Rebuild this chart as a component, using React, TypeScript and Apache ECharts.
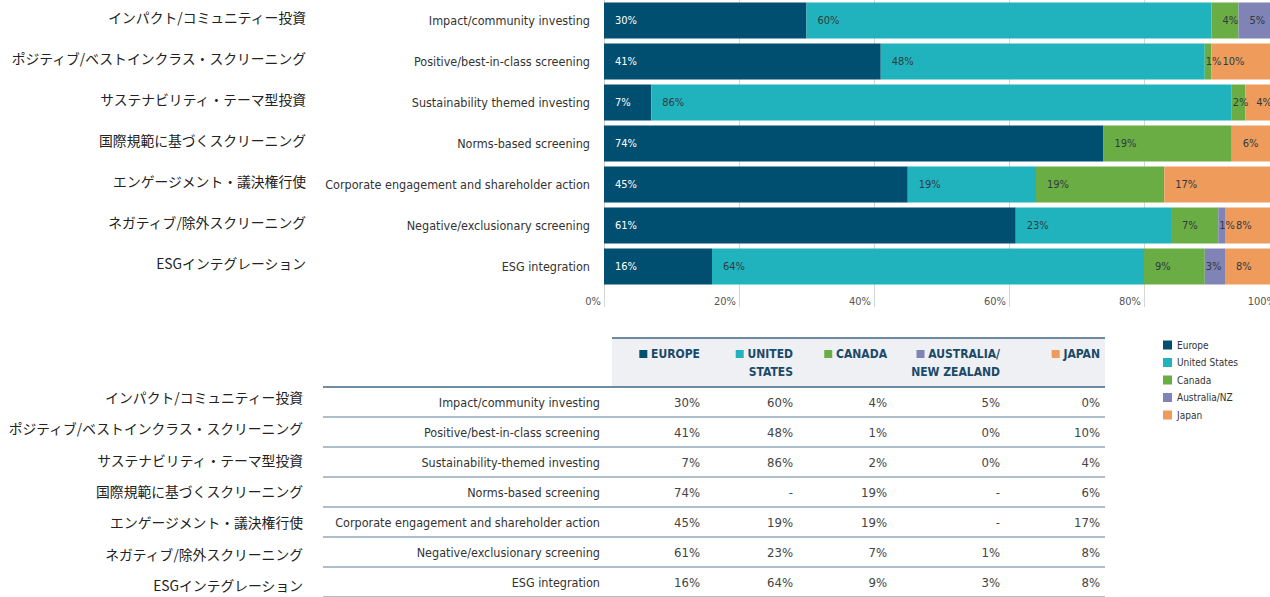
import React, { useEffect, useRef } from 'react';
import * as echarts from 'echarts';

// ---------- data ----------
const chartCategories = [
  'Impact/community investing',
  'Positive/best-in-class screening',
  'Sustainability themed investing',
  'Norms-based screening',
  'Corporate engagement and shareholder action',
  'Negative/exclusionary screening',
  'ESG integration',
];
const tableCategories = [
  'Impact/community investing',
  'Positive/best-in-class screening',
  'Sustainability-themed investing',
  'Norms-based screening',
  'Corporate engagement and shareholder action',
  'Negative/exclusionary screening',
  'ESG integration',
];
const japaneseLabels = [
  'インパクト/コミュニティー投資',
  'ポジティブ/ベストインクラス・スクリーニング',
  'サステナビリティ・テーマ型投資',
  '国際規範に基づくスクリーニング',
  'エンゲージメント・議決権行使',
  'ネガティブ/除外スクリーニング',
  'ESGインテグレーション',
];
const seriesNames = ['Europe', 'United States', 'Canada', 'Australia/NZ', 'Japan'];
const headerLine1 = ['EUROPE', 'UNITED', 'CANADA', 'AUSTRALIA/', 'JAPAN'];
const headerLine2 = ['', 'STATES', '', 'NEW ZEALAND', ''];

const europe = [30, 41, 7, 74, 45, 61, 16];
const unitedStates = [60, 48, 86, null, 19, 23, 64];
const canada = [4, 1, 2, 19, 19, 7, 9];
const australiaNZ = [5, 0, 0, null, null, 1, 3];
const japan = [0, 10, 4, 6, 17, 8, 8];

const seriesValues = [europe, unitedStates, canada, australiaNZ, japan];

// ---------- styles / layout ----------
const colors = ['#004f71', '#21b3bd', '#6bad45', '#8083b5', '#ee9b5c'];
const COND = "'Liberation Sans Narrow', 'DejaVu Sans Condensed', 'Roboto Condensed', Roboto, sans-serif";
const JP = "'Noto Sans CJK JP', 'Noto Sans', sans-serif";
const colRight = [700, 793, 887, 1000, 1100];
const tableLeft = 323;
const tableRight = 1105;
const headerLeft = 612;
const headerTop = 338;
const rowTop = 387;
const rowH = 30;

const fmtCell = (v: number | null) => (v === null ? '-' : v + '%');

function buildGraphics() {
  const els: any[] = [];
  els.push({
    type: 'rect',
    shape: { x: headerLeft, y: headerTop, width: tableRight - headerLeft, height: rowTop - headerTop },
    style: { fill: '#eef0f4' },
    silent: true,
  });
  els.push({
    type: 'line',
    shape: { x1: headerLeft, y1: headerTop, x2: tableRight, y2: headerTop },
    style: { stroke: '#3f6682', lineWidth: 1.5 },
  });
  for (let i = 0; i <= tableCategories.length; i++) {
    const y = rowTop + i * rowH;
    els.push({
      type: 'line',
      shape: { x1: tableLeft, y1: y, x2: tableRight, y2: y },
      style: { stroke: i === 0 ? '#3f6682' : '#94a9ba', lineWidth: 1.5 },
    });
  }
  headerLine1.forEach((t, c) => {
    els.push({
      type: 'text',
      x: colRight[c],
      y: 354,
      style: {
        text: '{sq| } ' + t,
        textAlign: 'right',
        textVerticalAlign: 'middle',
        fill: '#1b4a68',
        fontSize: 12,
        fontWeight: 'bold',
        fontFamily: COND,
        rich: { sq: { width: 8, height: 8, backgroundColor: colors[c] } },
      },
    });
    if (headerLine2[c]) {
      els.push({
        type: 'text',
        x: colRight[c],
        y: 372,
        style: {
          text: headerLine2[c],
          textAlign: 'right',
          textVerticalAlign: 'middle',
          fill: '#1b4a68',
          fontSize: 12,
          fontWeight: 'bold',
          fontFamily: COND,
        },
      });
    }
  });
  tableCategories.forEach((name, r) => {
    const cy = rowTop + r * rowH + rowH / 2;
    els.push({
      type: 'text',
      x: 600,
      y: cy,
      style: { text: name, textAlign: 'right', textVerticalAlign: 'middle', fill: '#333', fontSize: 12.5, fontFamily: COND },
    });
    els.push({
      type: 'text',
      x: 303,
      y: 397 + r * 31.3,
      style: { text: japaneseLabels[r], textAlign: 'right', textVerticalAlign: 'middle', fill: '#222', fontSize: 13.8, fontFamily: JP },
    });
    seriesValues.forEach((arr, c) => {
      els.push({
        type: 'text',
        x: colRight[c],
        y: cy,
        style: { text: fmtCell(arr[r]), textAlign: 'right', textVerticalAlign: 'middle', fill: '#444', fontSize: 13, fontFamily: COND },
      });
    });
  });
  return els;
}

export default function App() {
  const ref = useRef<HTMLDivElement>(null);
  useEffect(() => {
    if (!ref.current) return;
    const chart = echarts.init(ref.current, undefined, { renderer: 'svg' });
    const series = seriesNames.map((name, s) => ({
      name,
      type: 'bar',
      stack: 'total',
      barWidth: 36,
      itemStyle: { color: colors[s] },
      label: {
        show: true,
        position: 'insideLeft',
        color: s === 0 ? '#ffffff' : '#2e3b3f',
        fontSize: 11,
        fontFamily: COND,
        formatter: (p: any) => (p.value > 0 ? p.value + '%' : ''),
      },
      data: seriesValues[s].map((v) => ({
        value: v,
        label: { distance: v !== null && v <= 3 ? 1 : 11 },
      })),
    }));
    chart.setOption({
      animation: false,
      color: colors,
      legend: {
        orient: 'vertical',
        left: 1163,
        top: 339,
        padding: 0,
        icon: 'rect',
        itemWidth: 9,
        itemHeight: 9,
        itemGap: 5.5,
        selectedMode: false,
        textStyle: { fontSize: 10, color: '#333', fontFamily: COND, lineHeight: 12 },
        data: seriesNames,
      },
      grid: { left: 604, top: 0, width: 675, height: 287, outerBoundsMode: 'none' },
      xAxis: {
        type: 'value',
        min: 0,
        max: 100,
        interval: 20,
        axisLine: { show: false },
        axisTick: { show: true, length: 20, lineStyle: { color: '#d6d6d6' } },
        splitLine: { show: true, lineStyle: { color: '#d6d6d6', width: 1 } },
        axisLabel: {
          formatter: '{value}%',
          align: 'right',
          margin: 9,
          padding: [0, 3, 0, 0],
          fontSize: 11,
          color: '#555',
          fontFamily: COND,
        },
      },
      yAxis: [
        {
          type: 'category',
          inverse: true,
          data: chartCategories,
          axisTick: { show: false },
          axisLine: { show: true, lineStyle: { color: '#cfcfcf' } },
          axisLabel: { margin: 14, fontSize: 12.5, color: '#333', fontFamily: COND },
        },
        {
          type: 'category',
          inverse: true,
          position: 'left',
          offset: 290,
          data: japaneseLabels,
          axisTick: { show: false },
          axisLine: { show: false },
          axisLabel: {
            margin: 8,
            fontSize: 13.8,
            color: '#222',
            fontFamily: JP,
            verticalAlign: 'bottom',
            lineHeight: 7,
          },
        },
      ],
      series,
      graphic: { elements: buildGraphics() },
    });
    return () => chart.dispose();
  }, []);
  return (
    <div
      ref={ref}
      style={{ position: 'absolute', left: 0, top: 0, width: 1270, height: 597, background: '#fff' }}
    />
  );
}
